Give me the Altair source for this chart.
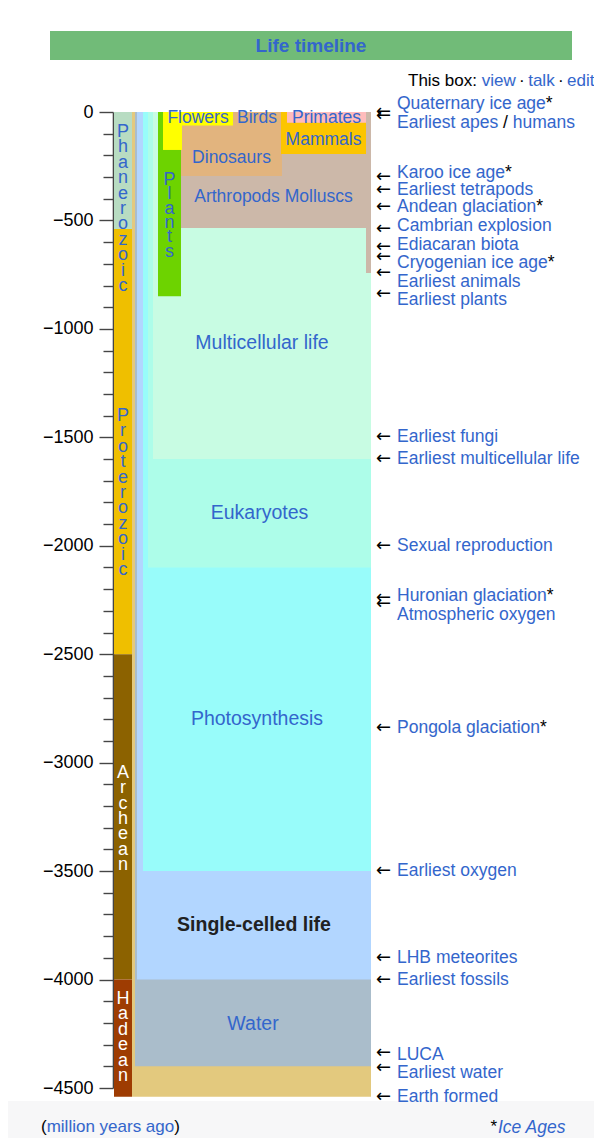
import altair as alt
import pandas as pd

FONT = "Liberation Sans"
BLUE = "#3366cc"
BLACK = "#000000"
WHITE = "#ffffff"
FOOT_BG = "#f7f7f8"

# ---------------- eons (million years ago, negative = past)
eon_names = ["Phanerozoic", "Proterozoic", "Archean", "Hadean"]
eon_start = [0, -539, -2500, -4000]
eon_end = [-539, -2500, -4000, -4540]
eon_colors = ["#b8dcc2", "#efbf00", "#8c6200", "#9e3c02"]
eon_text_colors = [BLUE, BLUE, "#ffffff", "#ffffff"]
eon_label_at = [-92, -1402, -3047, -4090]

# ---------------- life bars (drawn bottom to top)
bar_names = ["Earth", "Water", "Single-celled life", "Photosynthesis", "Eukaryotes",
             "Multicellular life", "Plants", "Animals", "Arthropods Molluscs", "Dinosaurs",
             "Birds", "Mammals", "Primates", "Flowers stem", "Flowers"]
bar_start = [0, 0, 0, 0, 0, 0, 0, 0, 0, 0, 0, 0, 0, 0, 0]
bar_end = [-4540, -4400, -4000, -3500, -2100, -1600, -850, -742, -535, -295,
           -60, -194, -50, -175, -62]
bar_colors = ["#e3c97e", "#aabdcb", "#b2d6ff", "#98fcfa", "#adfde9",
              "#c8fce3", "#6dd300", "#ccb8a9", "#ccb8a9", "#e2b47e",
              "#e2b47e", "#fcc500", "#ffbcbc", "#ffff00", "#ffff00"]
bar_labels = ["", "Water", "Single-celled life", "Photosynthesis", "Eukaryotes",
              "Multicellular life", "", "", "Arthropods Molluscs", "Dinosaurs",
              "Birds", "Mammals", "Primates", "", "Flowers"]
bar_label_at = [0, -4205, -3748, -2799, -1849, -1065, 0, 0, -392, -212,
                -28, -129, -28, 0, -28]
# horizontal lanes of the bars (left and right edge)
lane_left = [19, 22, 24, 30, 35, 40, 45, 253, 68, 68, 119, 168, 174, 50, 50]
lane_right = [258, 258, 258, 258, 258, 258, 68, 258, 253, 169, 169, 253, 253, 69, 120]

big_labels = ["Water", "Single-celled life", "Photosynthesis", "Eukaryotes", "Multicellular life"]

# ---------------- events on the right
events = ["Quaternary ice age", "Earliest apes / humans", "Karoo ice age", "Earliest tetrapods",
          "Andean glaciation", "Cambrian explosion", "Ediacaran biota", "Cryogenian ice age",
          "Earliest animals", "Earliest plants", "Earliest fungi", "Earliest multicellular life",
          "Sexual reproduction", "Huronian glaciation", "Atmospheric oxygen", "Pongola glaciation",
          "Earliest oxygen", "LHB meteorites", "Earliest fossils", "LUCA", "Earliest water",
          "Earth formed"]
event_time = [-2, -18, -300, -360, -440, -538, -622, -668, -742, -840, -1500, -1600,
              -2000, -2240, -2270, -2840, -3500, -3900, -4000, -4340, -4410, -4540]
event_label_at = [37, -51, -281, -360, -438, -526, -613, -696, -784, -867, -1498, -1600,
                  -2001, -2232, -2319, -2840, -3500, -3900, -4002, -4348, -4431, -4541]
ice_age = [True, False, True, False, True, False, False, True, False, False, False, False,
           False, True, False, True, False, False, False, False, False, False]

tick_values = list(range(0, -4501, -100))

W, H = 481, 976
xs = alt.Scale(domain=[0, W], nice=False, zero=False)
ys = alt.Scale(domain=[-4500, 0], nice=False, zero=False)


def colored_rows(segments, bg):
    """Multi-coloured text: overlaid prefixes, each one on an eraser in the background colour."""
    out = []
    n_all = len(segments)
    for n in range(n_all, 0, -1):
        txt = "".join(s for s, _ in segments[:n])
        col = segments[n - 1][1]
        if n < n_all:
            out.append({"text": txt, "fill": bg, "stroke": bg, "sw": 1.3})
        out.append({"text": txt, "fill": col, "stroke": col, "sw": 0.0})
    return out


# ---------------- tables
eon_df = pd.DataFrame({
    "name": eon_names, "t0": eon_start, "t1": eon_end, "color": eon_colors,
    "tcolor": eon_text_colors, "lab_t": eon_label_at,
    "vert": ["\n".join(list(n)) for n in eon_names],
    "x0": [1] * 4, "x1": [19] * 4,
})

bar_df = pd.DataFrame({
    "name": bar_names, "t0": bar_start, "t1": bar_end, "color": bar_colors,
    "label": bar_labels, "lab_t": bar_label_at, "x0": lane_left, "x1": lane_right,
})
bar_df["order"] = range(len(bar_df))
lab_df = bar_df[bar_df["label"] != ""].copy()
lab_df["xc"] = (lab_df["x0"] + lab_df["x1"]) / 2
small_df = lab_df[~lab_df["label"].isin(big_labels)]
big_df = lab_df[lab_df["label"].isin(big_labels) & (lab_df["label"] != "Single-celled life")]
bold_df = lab_df[lab_df["label"] == "Single-celled life"]

plants_df = pd.DataFrame({"vert": ["\n".join(list("Plants"))], "lab_t": [-313],
                          "xc": [(lane_left[6] + lane_right[6]) / 2]})

rows = []
for i, (ev, t_lab, star) in enumerate(zip(events, event_label_at, ice_age)):
    if ev == "Earliest apes / humans":
        segs = [("Earliest apes", BLUE), (" / ", BLACK), ("humans", BLUE)]
    elif star:
        segs = [(ev, BLUE), ("*", BLACK)]
    else:
        segs = [(ev, BLUE)]
    for r in colored_rows(segs, WHITE):
        r["lab_t"] = t_lab
        rows.append(r)
ev_text_df = pd.DataFrame(rows)
ev_text_df["k"] = range(len(ev_text_df))
ev_df = pd.DataFrame({"event": events, "t": event_time, "arrow": ["\u2190"] * len(events)})

box_df = pd.DataFrame(colored_rows(
    [("This box: ", BLACK), ("view", BLUE), ("\u2009·\u2009", BLACK), ("talk", BLUE),
     ("\u2009·\u2009", BLACK), ("edit", BLUE)], WHITE))
box_df["k"] = range(len(box_df))

foot_df = pd.DataFrame(colored_rows(
    [("(", BLACK), ("million years ago", BLUE), (")", BLACK)], FOOT_BG))
foot_df["k"] = range(len(foot_df))

one = pd.DataFrame({"title": ["Life timeline"], "star": ["*"], "ice": ["Ice Ages"]})

# ---------------- axis
yaxis = alt.Axis(
    values=tick_values, title=None, grid=False, format="d",
    domain=True, domainColor="#454545", domainWidth=1.6,
    tickColor="#454545", tickWidth=1.4,
    tickSize={"condition": {"test": "datum.value % 500 === 0", "value": 14}, "value": 10},
    labelExpr="datum.value % 500 === 0 ? datum.label : ''",
    labelFont=FONT, labelFontSize=18, labelColor="#000000", labelPadding=6,
)


def Y(f):
    return alt.Y(f, scale=ys, axis=yaxis)


def YD(v):
    return alt.YDatum(v, scale=ys, axis=yaxis)


def X(f):
    return alt.X(f, scale=xs, axis=None)


eon_rects = alt.Chart(eon_df).mark_rect().encode(
    x=X("x0:Q"), x2="x1:Q", y=Y("t0:Q"), y2="t1:Q",
    color=alt.Color("color:N", scale=None))

bar_rects = alt.Chart(bar_df).mark_rect().encode(
    x=X("x0:Q"), x2="x1:Q", y=Y("t0:Q"), y2="t1:Q",
    color=alt.Color("color:N", scale=None), order="order:Q")

footer_bg = alt.Chart(one).mark_rect(color=FOOT_BG).encode(
    x=alt.value(-105), x2=alt.value(W), y=YD(-4560), y2=alt.Y2Datum(-4820))

eon_text = alt.Chart(eon_df).mark_text(
    font=FONT, fontSize=18, lineBreak="\n", lineHeight=15.4, align="center", baseline="middle"
).encode(x=alt.value(10), y=Y("lab_t:Q"), text="vert:N", color=alt.Color("tcolor:N", scale=None))

plants_text = alt.Chart(plants_df).mark_text(
    font=FONT, fontSize=18, lineBreak="\n", lineHeight=14.4, align="center", baseline="middle",
    color=BLUE
).encode(x=X("xc:Q"), y=Y("lab_t:Q"), text="vert:N")

small_text = alt.Chart(small_df).mark_text(
    font=FONT, fontSize=17.5, align="center", baseline="middle", color=BLUE
).encode(x=X("xc:Q"), y=Y("lab_t:Q"), text="label:N")

big_text = alt.Chart(big_df).mark_text(
    font=FONT, fontSize=19.5, align="center", baseline="middle", color=BLUE
).encode(x=X("xc:Q"), y=Y("lab_t:Q"), text="label:N")

bold_text = alt.Chart(bold_df).mark_text(
    font=FONT, fontSize=19.5, fontWeight="bold", align="center", baseline="middle", color="#202122"
).encode(x=X("xc:Q"), y=Y("lab_t:Q"), text="label:N")

arrows = alt.Chart(ev_df).mark_text(
    font="DejaVu Sans", fontSize=18, align="left", baseline="middle", color=BLACK
).encode(x=alt.value(263), y=Y("t:Q"), text="arrow:N")


def multi_text(df, x, y, size=17.5, **kw):
    return alt.Chart(df).mark_text(
        font=FONT, fontSize=size, align="left", baseline="middle", **kw
    ).encode(x=alt.value(x), y=y, text="text:N",
             color=alt.Color("fill:N", scale=None),
             stroke=alt.Stroke("stroke:N", scale=None),
             strokeWidth=alt.StrokeWidth("sw:Q", scale=None),
             order="k:Q")


ev_text = multi_text(ev_text_df, 284, Y("lab_t:Q"))

header = alt.Chart(one).mark_rect(color="#71bb78").encode(
    x=alt.value(-63), x2=alt.value(459), y=YD(373.5), y2=alt.Y2Datum(239.8))
title = alt.Chart(one).mark_text(
    font=FONT, fontSize=19, fontWeight="bold", color=BLUE, align="center", baseline="middle"
).encode(x=alt.value(198), y=YD(304.3), text="title:N")

box_text = multi_text(box_df, 295, YD(145), size=17)
foot_text = multi_text(foot_df, -72, YD(-4681), size=17)

star_text = alt.Chart(one).mark_text(
    font=FONT, fontSize=17, align="right", baseline="middle", color=BLACK
).encode(x=alt.value(384), y=YD(-4681), text="star:N")
ice_text = alt.Chart(one).mark_text(
    font=FONT, fontSize=17.5, fontStyle="italic", align="left", baseline="middle", color=BLUE
).encode(x=alt.value(385), y=YD(-4685), text="ice:N")

chart = alt.layer(
    eon_rects, bar_rects, footer_bg, eon_text, plants_text, small_text, big_text, bold_text,
    arrows, ev_text, header, title, box_text, foot_text, star_text, ice_text,
).properties(
    width=W, height=H,
    autosize=alt.AutoSizeParams(type="none"),
    padding={"left": 105, "top": 104, "right": 0, "bottom": 50},
    background="#ffffff",
).configure_view(strokeWidth=0)

chart.save("out.html", embed_options={"renderer": "svg", "actions": False})
